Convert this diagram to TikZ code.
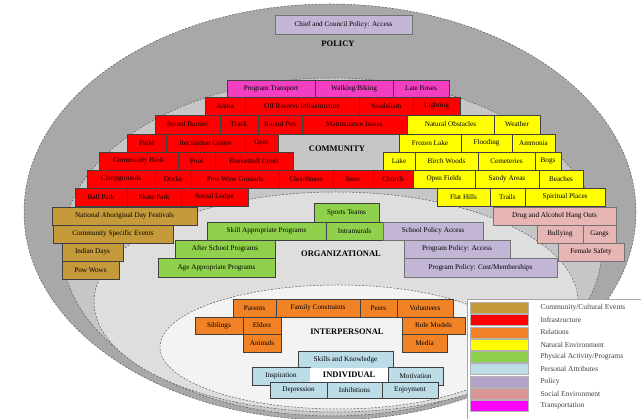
\documentclass[tikz,border=0pt]{standalone}
\usepackage{fontspec}
\setmainfont{Liberation Serif}
\usetikzlibrary{positioning}
\definecolor{outergrey}{HTML}{A8A8A8}
\definecolor{commgrey}{HTML}{C6C6C6}
\definecolor{orggrey}{HTML}{DEDEDE}
\definecolor{intergrey}{HTML}{F3F3F3}
\definecolor{ringline}{HTML}{5A5A5A}
\definecolor{culturalbrown}{HTML}{C49A3A}
\definecolor{infrared}{HTML}{FF0000}
\definecolor{relorange}{HTML}{F28226}
\definecolor{natyellow}{HTML}{FFFF00}
\definecolor{progreen}{HTML}{8FD14C}
\definecolor{persblue}{HTML}{BCDCE8}
\definecolor{policypurple}{HTML}{C2B5D6}
\definecolor{socialpink}{HTML}{E8B5B5}
\definecolor{transmagenta}{HTML}{F23FC2}
\definecolor{keypurple}{HTML}{B3A2C7}
\definecolor{keypink}{HTML}{D99694}
\definecolor{keymagenta}{HTML}{FF00FF}

% one box of the wall: style, name, left, top, right, bottom, text
\newcommand{\brick}[7]{%
  \node[#1, minimum width={(#5-#3)*1pt}, minimum height={(#6-#4)*1pt}] (#2) at (#3,#4) {#7};}

\begin{document}
\begin{tikzpicture}[x=1pt,y=-1pt,
    ring/.style={draw=ringline, dash pattern=on 2pt off 1.5pt, line width=0.5pt},
    brick/.style={draw=black!75, line width=0.5pt, anchor=north west,
        inner sep=0pt, outer sep=0pt, font=\fontsize{7.2}{8}\selectfont},
    cultural/.style={brick, fill=culturalbrown},
    infra/.style={brick, fill=infrared},
    relation/.style={brick, fill=relorange},
    natural/.style={brick, fill=natyellow},
    program/.style={brick, fill=progreen},
    personal/.style={brick, fill=persblue},
    policy/.style={brick, fill=policypurple, draw=black!55},
    social/.style={brick, fill=socialpink, draw=black!55},
    transport/.style={brick, fill=transmagenta},
    level/.style={font=\fontsize{8.5}{10}\selectfont\bfseries},
    swatch/.style={anchor=north west, minimum width=58pt, minimum height=11pt,
        inner sep=0pt, draw=black!30, line width=0.3pt},
    keytext/.style={anchor=west, inner sep=0pt, text=black!75,
        font=\fontsize{7.5}{8}\selectfont}]
\useasboundingbox (0,0) rectangle (641,419);
\fill[white] (0,0) rectangle (641,419);

% nested rings
\draw[ring, fill=outergrey] (330,212) ellipse [x radius=306, y radius=208];
\draw[ring, fill=commgrey] (332,247) ellipse [x radius=270, y radius=169];
\draw[ring, fill=orggrey] (336,302) ellipse [x radius=242, y radius=110];
\draw[ring, fill=intergrey] (338,347) ellipse [x radius=178, y radius=62];

% policy
\brick{policy}{chief}{275}{15}{412}{34}{Chief and Council Policy: Access}
\node[level] (policylbl) at (338,44) {POLICY};

% community: transport and infrastructure
\brick{transport}{progtrans}{227}{80}{315}{97}{Program Transport}
\brick{transport}{walking}{315}{80}{393}{97}{Walking/Biking}
\brick{transport}{latebus}{393}{80}{449}{97}{Late Buses}

\brick{infra}{arena}{205}{97}{245}{115}{Arena}
\brick{infra}{offres}{245}{97}{359}{115}{Off Reserve Infrastructure}
\brick{infra}{vandal}{359}{97}{413}{115}{Vandalism}
\brick{infra}{lighting}{413}{97}{460}{115}{Lighting}

\brick{infra}{sound}{155}{115}{220}{134}{Sound Barrier}
\brick{infra}{track}{220}{115}{258}{134}{Track}
\brick{infra}{roundpen}{258}{115}{302}{134}{Round Pen}
\brick{infra}{maint}{302}{115}{407}{134}{Maintenance Issues}

\brick{infra}{field}{127}{134}{166}{152}{Field}
\brick{infra}{reccentre}{166}{134}{245}{152}{Recreation Centre}
\brick{infra}{gym}{245}{134}{278}{152}{Gym}

\brick{infra}{rink}{99}{152}{178}{170}{Community Rink}
\brick{infra}{pool}{178}{152}{215}{170}{Pool}
\brick{infra}{bball}{215}{152}{293}{170}{Basketball Court}

\brick{infra}{campgr}{87}{170}{155}{188}{Campgrounds}
\brick{infra}{docks}{155}{170}{191}{188}{Docks}
\brick{infra}{powgr}{191}{170}{279}{188}{Pow Wow Grounds}
\brick{infra}{clean}{279}{170}{333}{188}{Cleanliness}
\brick{infra}{store}{333}{170}{373}{188}{Store}
\brick{infra}{church}{373}{170}{413}{188}{Church}

\brick{infra}{ballpark}{75}{188}{127}{206}{Ball Park}
\brick{infra}{skatepark}{127}{188}{181}{206}{Skate Park}
\brick{infra}{lodge}{181}{188}{248}{206}{Social Lodge}

% community: natural environment
\brick{natural}{obstacles}{407}{115}{494}{134}{Natural Obstacles}
\brick{natural}{weather}{494}{115}{540}{134}{Weather}
\brick{natural}{frozen}{399}{134}{461}{152}{Frozen Lake}
\brick{natural}{flooding}{461}{134}{512}{152}{Flooding}
\brick{natural}{ammonia}{512}{134}{555}{152}{Ammonia}
\brick{natural}{lake}{383}{152}{415}{170}{Lake}
\brick{natural}{birch}{415}{152}{478}{170}{Birch Woods}
\brick{natural}{cemet}{478}{152}{535}{170}{Cemeteries}
\brick{natural}{bogs}{535}{152}{561}{170}{Bogs}
\brick{natural}{openf}{413}{170}{475}{188}{Open Fields}
\brick{natural}{sandy}{475}{170}{539}{188}{Sandy Areas}
\brick{natural}{beaches}{539}{170}{583}{188}{Beaches}
\brick{natural}{hills}{437}{188}{490}{206}{Flat Hills}
\brick{natural}{trails}{490}{188}{525}{206}{Trails}
\brick{natural}{spirit}{525}{188}{605}{206}{Spiritual Places}

\node[level] (commlbl) at (337,149) {COMMUNITY};

% community: cultural events and social environment
\brick{cultural}{natday}{52}{207}{197}{225}{National Aboriginal Day Festivals}
\brick{cultural}{commev}{53}{225}{173}{243}{Community Specific Events}
\brick{cultural}{indian}{62}{243}{123}{261}{Indian Days}
\brick{cultural}{powwows}{62}{261}{119}{279}{Pow Wows}

\brick{social}{hangouts}{493}{207}{616}{225}{Drug and Alcohol Hang Outs}
\brick{social}{bully}{537}{225}{583}{243}{Bullying}
\brick{social}{gangs}{583}{225}{616}{243}{Gangs}
\brick{social}{female}{558}{243}{624}{261}{Female Safety}

% organizational
\brick{program}{sports}{314}{203}{379}{222}{Sports Teams}
\brick{program}{skill}{207}{222}{326}{240}{Skill Appropriate Programs}
\brick{program}{intra}{326}{222}{383}{240}{Intramurals}
\brick{program}{afters}{175}{240}{275}{258}{After School Programs}
\brick{program}{ageapp}{158}{258}{275}{277}{Age Appropriate Programs}

\brick{policy}{school}{383}{222}{483}{240}{School Policy Access}
\brick{policy}{progacc}{404}{240}{510}{258}{Program Policy: Access}
\brick{policy}{progcost}{404}{258}{557}{277}{Program Policy: Cost/Memberships}

\node[level] (orglbl) at (341,254) {ORGANIZATIONAL};

% interpersonal
\brick{relation}{parents}{233}{299}{276}{317}{Parents}
\brick{relation}{family}{276}{299}{360}{317}{Family Constraints}
\brick{relation}{peers}{360}{299}{397}{317}{Peers}
\brick{relation}{volunt}{397}{299}{453}{317}{Volunteers}
\brick{relation}{siblings}{195}{317}{243}{334}{Siblings}
\brick{relation}{elders}{243}{317}{281}{334}{Elders}
\brick{relation}{animals}{243}{334}{281}{352}{Animals}
\brick{relation}{rolemod}{402}{317}{465}{334}{Role Models}
\brick{relation}{media}{402}{334}{447}{352}{Media}

\node[level] (interlbl) at (347,332) {INTERPERSONAL};

% individual
\brick{personal}{skills}{298}{351}{393}{368}{Skills and Knowledge}
\brick{personal}{inspir}{252}{367}{310}{385}{Inspiration}
\brick{personal}{motiv}{388}{367}{443}{385}{Motivation}
\brick{personal}{depress}{270}{382}{327}{398}{Depression}
\brick{personal}{inhib}{327}{382}{382}{398}{Inhibitions}
\brick{personal}{enjoy}{382}{382}{438}{398}{Enjoyment}
\node[level, fill=white, anchor=north west, minimum width=78pt, minimum height=14pt,
    inner sep=0pt] (indivlbl) at (310,368) {INDIVIDUAL};

% legend
\draw[draw=black!35, fill=white, line width=0.6pt] (467,299) rectangle (645,423);
\foreach \c/\t [count=\i] in {culturalbrown/{Community/Cultural Events},
    infrared/Infrastructure, relorange/Relations, natyellow/Natural Environment,
    progreen/{Physical Activity/Programs}, persblue/Personal Attributes,
    keypurple/Policy, keypink/Social Environment, keymagenta/Transportation}
{
    \node[swatch, fill=\c] (swatch\i) at (470,{289.7+12.3*\i}) {};
    \node[keytext, right=12pt of swatch\i] (key\i) {\t};
}
\end{tikzpicture}
\end{document}
